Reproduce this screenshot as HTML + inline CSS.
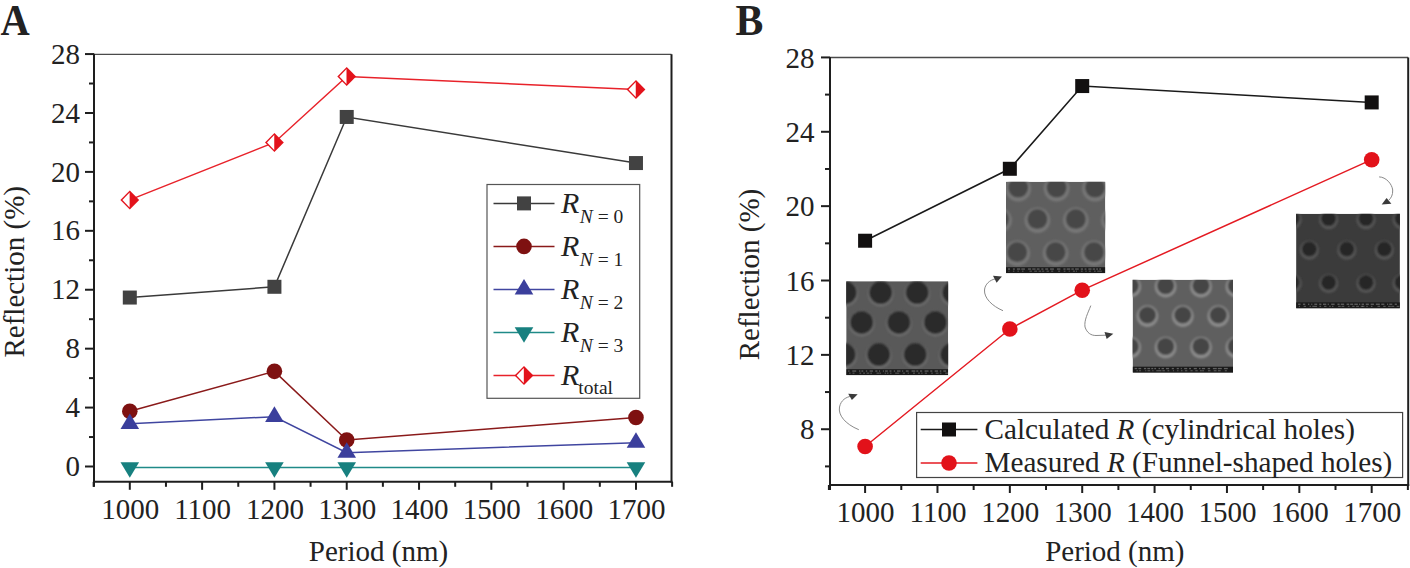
<!DOCTYPE html><html><head><meta charset="utf-8"><style>html,body{margin:0;padding:0;background:#fff;width:1410px;height:568px;overflow:hidden}</style></head><body><svg width="1410" height="568" viewBox="0 0 1410 568" style="display:block">
<rect width="1410" height="568" fill="#fff"/>
<line x1="94.0" y1="54.3" x2="671.5" y2="54.3" stroke="#4a4a4a" stroke-width="1.3"/>
<line x1="671.5" y1="54.3" x2="671.5" y2="482.8" stroke="#1e1e1e" stroke-width="2"/>
<line x1="94.0" y1="53.699999999999996" x2="94.0" y2="486.8" stroke="#1e1e1e" stroke-width="2"/>
<line x1="93.0" y1="481.8" x2="672.5" y2="481.8" stroke="#1e1e1e" stroke-width="2"/>
<line x1="85.00" y1="466.50" x2="94.0" y2="466.50" stroke="#1e1e1e" stroke-width="2"/>
<text transform="translate(80,476.10) scale(1,1.05)" text-anchor="end" font-family="Liberation Serif" font-size="29" fill="#222">0</text>
<line x1="89.00" y1="437.04" x2="94.0" y2="437.04" stroke="#1e1e1e" stroke-width="2"/>
<line x1="85.00" y1="407.58" x2="94.0" y2="407.58" stroke="#1e1e1e" stroke-width="2"/>
<text transform="translate(80,417.18) scale(1,1.05)" text-anchor="end" font-family="Liberation Serif" font-size="29" fill="#222">4</text>
<line x1="89.00" y1="378.12" x2="94.0" y2="378.12" stroke="#1e1e1e" stroke-width="2"/>
<line x1="85.00" y1="348.66" x2="94.0" y2="348.66" stroke="#1e1e1e" stroke-width="2"/>
<text transform="translate(80,358.26) scale(1,1.05)" text-anchor="end" font-family="Liberation Serif" font-size="29" fill="#222">8</text>
<line x1="89.00" y1="319.20" x2="94.0" y2="319.20" stroke="#1e1e1e" stroke-width="2"/>
<line x1="85.00" y1="289.74" x2="94.0" y2="289.74" stroke="#1e1e1e" stroke-width="2"/>
<text transform="translate(80,299.34) scale(1,1.05)" text-anchor="end" font-family="Liberation Serif" font-size="29" fill="#222">12</text>
<line x1="89.00" y1="260.28" x2="94.0" y2="260.28" stroke="#1e1e1e" stroke-width="2"/>
<line x1="85.00" y1="230.82" x2="94.0" y2="230.82" stroke="#1e1e1e" stroke-width="2"/>
<text transform="translate(80,240.42) scale(1,1.05)" text-anchor="end" font-family="Liberation Serif" font-size="29" fill="#222">16</text>
<line x1="89.00" y1="201.36" x2="94.0" y2="201.36" stroke="#1e1e1e" stroke-width="2"/>
<line x1="85.00" y1="171.90" x2="94.0" y2="171.90" stroke="#1e1e1e" stroke-width="2"/>
<text transform="translate(80,181.50) scale(1,1.05)" text-anchor="end" font-family="Liberation Serif" font-size="29" fill="#222">20</text>
<line x1="89.00" y1="142.44" x2="94.0" y2="142.44" stroke="#1e1e1e" stroke-width="2"/>
<line x1="85.00" y1="112.98" x2="94.0" y2="112.98" stroke="#1e1e1e" stroke-width="2"/>
<text transform="translate(80,122.58) scale(1,1.05)" text-anchor="end" font-family="Liberation Serif" font-size="29" fill="#222">24</text>
<line x1="89.00" y1="83.52" x2="94.0" y2="83.52" stroke="#1e1e1e" stroke-width="2"/>
<line x1="85.00" y1="54.06" x2="94.0" y2="54.06" stroke="#1e1e1e" stroke-width="2"/>
<text transform="translate(80,63.66) scale(1,1.05)" text-anchor="end" font-family="Liberation Serif" font-size="29" fill="#222">28</text>
<line x1="93.65" y1="481.8" x2="93.65" y2="486.80" stroke="#1e1e1e" stroke-width="2"/>
<line x1="129.80" y1="481.8" x2="129.80" y2="489.80" stroke="#1e1e1e" stroke-width="2"/>
<text transform="translate(130.30,518.7) scale(1,1.05)" text-anchor="middle" font-family="Liberation Serif" font-size="29" fill="#222">1000</text>
<line x1="165.96" y1="481.8" x2="165.96" y2="486.80" stroke="#1e1e1e" stroke-width="2"/>
<line x1="202.11" y1="481.8" x2="202.11" y2="489.80" stroke="#1e1e1e" stroke-width="2"/>
<text transform="translate(202.61,518.7) scale(1,1.05)" text-anchor="middle" font-family="Liberation Serif" font-size="29" fill="#222">1100</text>
<line x1="238.26" y1="481.8" x2="238.26" y2="486.80" stroke="#1e1e1e" stroke-width="2"/>
<line x1="274.42" y1="481.8" x2="274.42" y2="489.80" stroke="#1e1e1e" stroke-width="2"/>
<text transform="translate(274.92,518.7) scale(1,1.05)" text-anchor="middle" font-family="Liberation Serif" font-size="29" fill="#222">1200</text>
<line x1="310.57" y1="481.8" x2="310.57" y2="486.80" stroke="#1e1e1e" stroke-width="2"/>
<line x1="346.73" y1="481.8" x2="346.73" y2="489.80" stroke="#1e1e1e" stroke-width="2"/>
<text transform="translate(347.23,518.7) scale(1,1.05)" text-anchor="middle" font-family="Liberation Serif" font-size="29" fill="#222">1300</text>
<line x1="382.88" y1="481.8" x2="382.88" y2="486.80" stroke="#1e1e1e" stroke-width="2"/>
<line x1="419.04" y1="481.8" x2="419.04" y2="489.80" stroke="#1e1e1e" stroke-width="2"/>
<text transform="translate(419.54,518.7) scale(1,1.05)" text-anchor="middle" font-family="Liberation Serif" font-size="29" fill="#222">1400</text>
<line x1="455.19" y1="481.8" x2="455.19" y2="486.80" stroke="#1e1e1e" stroke-width="2"/>
<line x1="491.35" y1="481.8" x2="491.35" y2="489.80" stroke="#1e1e1e" stroke-width="2"/>
<text transform="translate(491.85,518.7) scale(1,1.05)" text-anchor="middle" font-family="Liberation Serif" font-size="29" fill="#222">1500</text>
<line x1="527.50" y1="481.8" x2="527.50" y2="486.80" stroke="#1e1e1e" stroke-width="2"/>
<line x1="563.66" y1="481.8" x2="563.66" y2="489.80" stroke="#1e1e1e" stroke-width="2"/>
<text transform="translate(564.16,518.7) scale(1,1.05)" text-anchor="middle" font-family="Liberation Serif" font-size="29" fill="#222">1600</text>
<line x1="599.82" y1="481.8" x2="599.82" y2="486.80" stroke="#1e1e1e" stroke-width="2"/>
<line x1="635.97" y1="481.8" x2="635.97" y2="489.80" stroke="#1e1e1e" stroke-width="2"/>
<text transform="translate(636.47,518.7) scale(1,1.05)" text-anchor="middle" font-family="Liberation Serif" font-size="29" fill="#222">1700</text>
<line x1="672.12" y1="481.8" x2="672.12" y2="486.80" stroke="#1e1e1e" stroke-width="2"/>
<text x="378.5" y="561" text-anchor="middle" font-family="Liberation Serif" font-size="29" fill="#222">Period (nm)</text>
<text transform="translate(24,271.8) rotate(-90)" text-anchor="middle" font-family="Liberation Serif" font-size="29" fill="#222">Reflection (%)</text>
<text transform="translate(0.5,34.6) scale(1,1.1)" font-family="Liberation Serif" font-size="40.5" font-weight="bold" fill="#222">A</text>
<polyline points="129.80,297.55 274.42,286.79 346.73,116.96 635.97,163.06" fill="none" stroke="#3a3a3a" stroke-width="1.5"/>
<rect x="122.80" y="290.55" width="14.00" height="14.00" fill="#424242"/>
<rect x="267.42" y="279.79" width="14.00" height="14.00" fill="#424242"/>
<rect x="339.73" y="109.96" width="14.00" height="14.00" fill="#424242"/>
<rect x="628.97" y="156.06" width="14.00" height="14.00" fill="#424242"/>
<polyline points="129.80,411.26 274.42,371.34 346.73,439.99 635.97,417.45" fill="none" stroke="#8a1a1a" stroke-width="1.5"/>
<circle cx="129.80" cy="411.26" r="7.80" fill="#7e1111"/>
<circle cx="274.42" cy="371.34" r="7.80" fill="#7e1111"/>
<circle cx="346.73" cy="439.99" r="7.80" fill="#7e1111"/>
<circle cx="635.97" cy="417.45" r="7.80" fill="#7e1111"/>
<polyline points="129.80,423.78 274.42,416.71 346.73,452.65 635.97,442.64" fill="none" stroke="#4046a0" stroke-width="1.5"/>
<polygon points="120.50,428.98 139.10,428.98 129.80,413.38" fill="#3b3f9c"/>
<polygon points="265.12,421.91 283.72,421.91 274.42,406.31" fill="#3b3f9c"/>
<polygon points="337.43,457.85 356.03,457.85 346.73,442.25" fill="#3b3f9c"/>
<polygon points="626.67,447.84 645.27,447.84 635.97,432.24" fill="#3b3f9c"/>
<polyline points="129.80,467.38 274.42,467.38 346.73,467.38 635.97,467.38" fill="none" stroke="#1f8a88" stroke-width="1.5"/>
<polygon points="120.50,462.18 139.10,462.18 129.80,477.78" fill="#17807f"/>
<polygon points="265.12,462.18 283.72,462.18 274.42,477.78" fill="#17807f"/>
<polygon points="337.43,462.18 356.03,462.18 346.73,477.78" fill="#17807f"/>
<polygon points="626.67,462.18 645.27,462.18 635.97,477.78" fill="#17807f"/>
<polyline points="129.80,199.89 274.42,142.44 346.73,76.45 635.97,89.41" fill="none" stroke="#e8222a" stroke-width="1.5"/>
<polygon points="129.80,190.39 139.20,199.89 129.80,209.39 120.40,199.89" fill="#e3121b"/><polygon points="129.60,192.39 122.40,199.89 129.60,207.39" fill="#fff"/>
<polygon points="274.42,132.94 283.82,142.44 274.42,151.94 265.02,142.44" fill="#e3121b"/><polygon points="274.22,134.94 267.02,142.44 274.22,149.94" fill="#fff"/>
<polygon points="346.73,66.95 356.13,76.45 346.73,85.95 337.33,76.45" fill="#e3121b"/><polygon points="346.53,68.95 339.33,76.45 346.53,83.95" fill="#fff"/>
<polygon points="635.97,79.91 645.37,89.41 635.97,98.91 626.57,89.41" fill="#e3121b"/><polygon points="635.77,81.91 628.57,89.41 635.77,96.91" fill="#fff"/>
<rect x="487" y="184.5" width="152.7" height="213.8" fill="#fff" stroke="#555" stroke-width="1.2"/>
<line x1="493.5" y1="203.40" x2="554.5" y2="203.40" stroke="#3a3a3a" stroke-width="1.5"/>
<rect x="517.00" y="196.40" width="14.00" height="14.00" fill="#424242"/>
<text x="561" y="213.40" font-family="Liberation Serif" font-size="31" fill="#222"><tspan font-style="italic" font-size="30">R</tspan><tspan font-size="19.5" dy="9.7" dx="0.5" font-style="italic">N</tspan><tspan font-size="19.5"> = 0</tspan></text>
<line x1="493.5" y1="246.40" x2="554.5" y2="246.40" stroke="#8a1a1a" stroke-width="1.5"/>
<circle cx="524.00" cy="246.40" r="7.80" fill="#7e1111"/>
<text x="561" y="256.40" font-family="Liberation Serif" font-size="31" fill="#222"><tspan font-style="italic" font-size="30">R</tspan><tspan font-size="19.5" dy="9.7" dx="0.5" font-style="italic">N</tspan><tspan font-size="19.5"> = 1</tspan></text>
<line x1="493.5" y1="289.40" x2="554.5" y2="289.40" stroke="#4046a0" stroke-width="1.5"/>
<polygon points="514.70,294.60 533.30,294.60 524.00,279.00" fill="#3b3f9c"/>
<text x="561" y="299.40" font-family="Liberation Serif" font-size="31" fill="#222"><tspan font-style="italic" font-size="30">R</tspan><tspan font-size="19.5" dy="9.7" dx="0.5" font-style="italic">N</tspan><tspan font-size="19.5"> = 2</tspan></text>
<line x1="493.5" y1="332.40" x2="554.5" y2="332.40" stroke="#1f8a88" stroke-width="1.5"/>
<polygon points="514.70,327.20 533.30,327.20 524.00,342.80" fill="#17807f"/>
<text x="561" y="342.40" font-family="Liberation Serif" font-size="31" fill="#222"><tspan font-style="italic" font-size="30">R</tspan><tspan font-size="19.5" dy="9.7" dx="0.5" font-style="italic">N</tspan><tspan font-size="19.5"> = 3</tspan></text>
<line x1="493.5" y1="375.40" x2="554.5" y2="375.40" stroke="#e8222a" stroke-width="1.5"/>
<polygon points="524.00,365.90 533.40,375.40 524.00,384.90 514.60,375.40" fill="#e3121b"/><polygon points="523.80,367.90 516.60,375.40 523.80,382.90" fill="#fff"/>
<text x="561" y="385.40" font-family="Liberation Serif" font-size="31" fill="#222"><tspan font-style="italic" font-size="30">R</tspan><tspan font-size="19.5" dy="8.6" dx="-1">total</tspan></text>
<line x1="830.0" y1="57.5" x2="1408.2" y2="57.5" stroke="#4a4a4a" stroke-width="1.3"/>
<line x1="1408.2" y1="57.5" x2="1408.2" y2="486.0" stroke="#1e1e1e" stroke-width="2"/>
<line x1="830.0" y1="56.9" x2="830.0" y2="490.0" stroke="#1e1e1e" stroke-width="2"/>
<line x1="829.0" y1="485.0" x2="1409.2" y2="485.0" stroke="#1e1e1e" stroke-width="2"/>
<line x1="825.00" y1="466.41" x2="830.0" y2="466.41" stroke="#1e1e1e" stroke-width="2"/>
<line x1="821.00" y1="429.23" x2="830.0" y2="429.23" stroke="#1e1e1e" stroke-width="2"/>
<text transform="translate(814.5,439.33) scale(1,1.05)" text-anchor="end" font-family="Liberation Serif" font-size="29" fill="#222">8</text>
<line x1="825.00" y1="392.05" x2="830.0" y2="392.05" stroke="#1e1e1e" stroke-width="2"/>
<line x1="821.00" y1="354.87" x2="830.0" y2="354.87" stroke="#1e1e1e" stroke-width="2"/>
<text transform="translate(814.5,364.97) scale(1,1.05)" text-anchor="end" font-family="Liberation Serif" font-size="29" fill="#222">12</text>
<line x1="825.00" y1="317.69" x2="830.0" y2="317.69" stroke="#1e1e1e" stroke-width="2"/>
<line x1="821.00" y1="280.51" x2="830.0" y2="280.51" stroke="#1e1e1e" stroke-width="2"/>
<text transform="translate(814.5,290.61) scale(1,1.05)" text-anchor="end" font-family="Liberation Serif" font-size="29" fill="#222">16</text>
<line x1="825.00" y1="243.33" x2="830.0" y2="243.33" stroke="#1e1e1e" stroke-width="2"/>
<line x1="821.00" y1="206.15" x2="830.0" y2="206.15" stroke="#1e1e1e" stroke-width="2"/>
<text transform="translate(814.5,216.25) scale(1,1.05)" text-anchor="end" font-family="Liberation Serif" font-size="29" fill="#222">20</text>
<line x1="825.00" y1="168.97" x2="830.0" y2="168.97" stroke="#1e1e1e" stroke-width="2"/>
<line x1="821.00" y1="131.79" x2="830.0" y2="131.79" stroke="#1e1e1e" stroke-width="2"/>
<text transform="translate(814.5,141.89) scale(1,1.05)" text-anchor="end" font-family="Liberation Serif" font-size="29" fill="#222">24</text>
<line x1="825.00" y1="94.61" x2="830.0" y2="94.61" stroke="#1e1e1e" stroke-width="2"/>
<line x1="821.00" y1="57.43" x2="830.0" y2="57.43" stroke="#1e1e1e" stroke-width="2"/>
<text transform="translate(814.5,67.53) scale(1,1.05)" text-anchor="end" font-family="Liberation Serif" font-size="29" fill="#222">28</text>
<line x1="828.91" y1="485.0" x2="828.91" y2="490.00" stroke="#1e1e1e" stroke-width="2"/>
<line x1="865.10" y1="485.0" x2="865.10" y2="493.00" stroke="#1e1e1e" stroke-width="2"/>
<text transform="translate(865.60,521.5) scale(1,1.05)" text-anchor="middle" font-family="Liberation Serif" font-size="29" fill="#222">1000</text>
<line x1="901.29" y1="485.0" x2="901.29" y2="490.00" stroke="#1e1e1e" stroke-width="2"/>
<line x1="937.47" y1="485.0" x2="937.47" y2="493.00" stroke="#1e1e1e" stroke-width="2"/>
<text transform="translate(937.97,521.5) scale(1,1.05)" text-anchor="middle" font-family="Liberation Serif" font-size="29" fill="#222">1100</text>
<line x1="973.65" y1="485.0" x2="973.65" y2="490.00" stroke="#1e1e1e" stroke-width="2"/>
<line x1="1009.84" y1="485.0" x2="1009.84" y2="493.00" stroke="#1e1e1e" stroke-width="2"/>
<text transform="translate(1010.34,521.5) scale(1,1.05)" text-anchor="middle" font-family="Liberation Serif" font-size="29" fill="#222">1200</text>
<line x1="1046.03" y1="485.0" x2="1046.03" y2="490.00" stroke="#1e1e1e" stroke-width="2"/>
<line x1="1082.21" y1="485.0" x2="1082.21" y2="493.00" stroke="#1e1e1e" stroke-width="2"/>
<text transform="translate(1082.71,521.5) scale(1,1.05)" text-anchor="middle" font-family="Liberation Serif" font-size="29" fill="#222">1300</text>
<line x1="1118.39" y1="485.0" x2="1118.39" y2="490.00" stroke="#1e1e1e" stroke-width="2"/>
<line x1="1154.58" y1="485.0" x2="1154.58" y2="493.00" stroke="#1e1e1e" stroke-width="2"/>
<text transform="translate(1155.08,521.5) scale(1,1.05)" text-anchor="middle" font-family="Liberation Serif" font-size="29" fill="#222">1400</text>
<line x1="1190.77" y1="485.0" x2="1190.77" y2="490.00" stroke="#1e1e1e" stroke-width="2"/>
<line x1="1226.95" y1="485.0" x2="1226.95" y2="493.00" stroke="#1e1e1e" stroke-width="2"/>
<text transform="translate(1227.45,521.5) scale(1,1.05)" text-anchor="middle" font-family="Liberation Serif" font-size="29" fill="#222">1500</text>
<line x1="1263.13" y1="485.0" x2="1263.13" y2="490.00" stroke="#1e1e1e" stroke-width="2"/>
<line x1="1299.32" y1="485.0" x2="1299.32" y2="493.00" stroke="#1e1e1e" stroke-width="2"/>
<text transform="translate(1299.82,521.5) scale(1,1.05)" text-anchor="middle" font-family="Liberation Serif" font-size="29" fill="#222">1600</text>
<line x1="1335.51" y1="485.0" x2="1335.51" y2="490.00" stroke="#1e1e1e" stroke-width="2"/>
<line x1="1371.69" y1="485.0" x2="1371.69" y2="493.00" stroke="#1e1e1e" stroke-width="2"/>
<text transform="translate(1372.19,521.5) scale(1,1.05)" text-anchor="middle" font-family="Liberation Serif" font-size="29" fill="#222">1700</text>
<line x1="1407.88" y1="485.0" x2="1407.88" y2="490.00" stroke="#1e1e1e" stroke-width="2"/>
<text x="1114.8" y="561" text-anchor="middle" font-family="Liberation Serif" font-size="29" fill="#222">Period (nm)</text>
<text transform="translate(758.5,274.5) rotate(-90)" text-anchor="middle" font-family="Liberation Serif" font-size="29" fill="#222">Reflection (%)</text>
<text transform="translate(735.5,34.6) scale(1.03,1.1)" font-family="Liberation Serif" font-size="40.5" font-weight="bold" fill="#222">B</text>
<clipPath id="c846"><rect x="846.2" y="281.2" width="102" height="94"/></clipPath><filter id="bc846" x="-10%" y="-10%" width="120%" height="120%"><feGaussianBlur stdDeviation="0.9"/></filter><g clip-path="url(#c846)"><rect x="846.2" y="281.2" width="102" height="94" fill="#595959"/><g filter="url(#bc846)"><circle cx="845.20" cy="293.70" r="12.90" fill="#6e6e6e"/><circle cx="845.20" cy="292.60" r="11.50" fill="#2c2c2c"/><circle cx="880.70" cy="293.70" r="12.90" fill="#6e6e6e"/><circle cx="880.70" cy="292.60" r="11.50" fill="#2c2c2c"/><circle cx="917.20" cy="293.70" r="12.90" fill="#6e6e6e"/><circle cx="917.20" cy="292.60" r="11.50" fill="#2c2c2c"/><circle cx="953.70" cy="293.70" r="12.90" fill="#6e6e6e"/><circle cx="953.70" cy="292.60" r="11.50" fill="#2c2c2c"/><circle cx="861.70" cy="323.50" r="12.90" fill="#6e6e6e"/><circle cx="861.70" cy="322.40" r="11.50" fill="#2c2c2c"/><circle cx="898.90" cy="323.50" r="12.90" fill="#6e6e6e"/><circle cx="898.90" cy="322.40" r="11.50" fill="#2c2c2c"/><circle cx="935.40" cy="323.50" r="12.90" fill="#6e6e6e"/><circle cx="935.40" cy="322.40" r="11.50" fill="#2c2c2c"/><circle cx="844.20" cy="355.70" r="12.90" fill="#6e6e6e"/><circle cx="844.20" cy="354.60" r="11.50" fill="#2c2c2c"/><circle cx="878.70" cy="355.70" r="12.90" fill="#6e6e6e"/><circle cx="878.70" cy="354.60" r="11.50" fill="#2c2c2c"/><circle cx="915.20" cy="355.70" r="12.90" fill="#6e6e6e"/><circle cx="915.20" cy="354.60" r="11.50" fill="#2c2c2c"/><circle cx="951.70" cy="355.70" r="12.90" fill="#6e6e6e"/><circle cx="951.70" cy="354.60" r="11.50" fill="#2c2c2c"/></g><rect x="846.2" y="369.2" width="102" height="6" fill="#1a1a1a"/><rect x="848.20" y="370.40" width="1.31" height="1.3" fill="#9a9a9a" opacity="0.55"/><rect x="849.18" y="372.60" width="1.32" height="1.2" fill="#9a9a9a" opacity="0.45"/><rect x="852.26" y="370.40" width="3.97" height="1.3" fill="#9a9a9a" opacity="0.55"/><rect x="852.55" y="372.60" width="1.94" height="1.2" fill="#9a9a9a" opacity="0.45"/><rect x="859.01" y="370.40" width="1.35" height="1.3" fill="#9a9a9a" opacity="0.55"/><rect x="859.43" y="372.60" width="1.75" height="1.2" fill="#9a9a9a" opacity="0.45"/><rect x="861.46" y="370.40" width="1.84" height="1.3" fill="#9a9a9a" opacity="0.55"/><rect x="863.15" y="372.60" width="1.87" height="1.2" fill="#9a9a9a" opacity="0.45"/><rect x="865.86" y="370.40" width="1.38" height="1.3" fill="#9a9a9a" opacity="0.55"/><rect x="866.61" y="372.60" width="2.66" height="1.2" fill="#9a9a9a" opacity="0.45"/><rect x="869.60" y="370.40" width="3.32" height="1.3" fill="#9a9a9a" opacity="0.55"/><rect x="870.29" y="372.60" width="1.65" height="1.2" fill="#9a9a9a" opacity="0.45"/><rect x="875.30" y="370.40" width="2.11" height="1.3" fill="#9a9a9a" opacity="0.55"/><rect x="876.52" y="372.60" width="2.66" height="1.2" fill="#9a9a9a" opacity="0.45"/><rect x="879.05" y="370.40" width="1.04" height="1.3" fill="#9a9a9a" opacity="0.55"/><rect x="879.41" y="372.60" width="1.63" height="1.2" fill="#9a9a9a" opacity="0.45"/><rect x="882.87" y="370.40" width="1.05" height="1.3" fill="#9a9a9a" opacity="0.55"/><rect x="884.70" y="372.60" width="1.42" height="1.2" fill="#9a9a9a" opacity="0.45"/><rect x="885.10" y="370.40" width="2.72" height="1.3" fill="#9a9a9a" opacity="0.55"/><rect x="887.02" y="372.60" width="1.41" height="1.2" fill="#9a9a9a" opacity="0.45"/><rect x="889.56" y="370.40" width="1.89" height="1.3" fill="#9a9a9a" opacity="0.55"/><rect x="890.00" y="372.60" width="1.49" height="1.2" fill="#9a9a9a" opacity="0.45"/><rect x="893.80" y="370.40" width="1.29" height="1.3" fill="#9a9a9a" opacity="0.55"/><rect x="895.14" y="372.60" width="2.15" height="1.2" fill="#9a9a9a" opacity="0.45"/><rect x="896.96" y="370.40" width="3.55" height="1.3" fill="#9a9a9a" opacity="0.55"/><rect x="897.14" y="372.60" width="2.15" height="1.2" fill="#9a9a9a" opacity="0.45"/><rect x="902.05" y="370.40" width="1.19" height="1.3" fill="#9a9a9a" opacity="0.55"/><rect x="902.72" y="372.60" width="2.28" height="1.2" fill="#9a9a9a" opacity="0.45"/><rect x="905.84" y="370.40" width="2.78" height="1.3" fill="#9a9a9a" opacity="0.55"/><rect x="907.67" y="372.60" width="1.22" height="1.2" fill="#9a9a9a" opacity="0.45"/><rect x="911.57" y="370.40" width="3.70" height="1.3" fill="#9a9a9a" opacity="0.55"/><rect x="912.95" y="372.60" width="2.03" height="1.2" fill="#9a9a9a" opacity="0.45"/><rect x="916.29" y="370.40" width="1.99" height="1.3" fill="#9a9a9a" opacity="0.55"/><rect x="918.05" y="372.60" width="1.79" height="1.2" fill="#9a9a9a" opacity="0.45"/><rect x="920.02" y="370.40" width="2.19" height="1.3" fill="#9a9a9a" opacity="0.55"/><rect x="921.19" y="372.60" width="1.37" height="1.2" fill="#9a9a9a" opacity="0.45"/><rect x="924.56" y="370.40" width="3.97" height="1.3" fill="#9a9a9a" opacity="0.55"/><rect x="924.82" y="372.60" width="2.24" height="1.2" fill="#9a9a9a" opacity="0.45"/><rect x="930.25" y="370.40" width="2.09" height="1.3" fill="#9a9a9a" opacity="0.55"/><rect x="931.21" y="372.60" width="1.57" height="1.2" fill="#9a9a9a" opacity="0.45"/><rect x="934.65" y="370.40" width="3.41" height="1.3" fill="#9a9a9a" opacity="0.55"/><rect x="935.71" y="372.60" width="2.81" height="1.2" fill="#9a9a9a" opacity="0.45"/><rect x="939.75" y="370.40" width="1.58" height="1.3" fill="#9a9a9a" opacity="0.55"/><rect x="939.84" y="372.60" width="1.62" height="1.2" fill="#9a9a9a" opacity="0.45"/><rect x="943.33" y="370.40" width="2.86" height="1.3" fill="#9a9a9a" opacity="0.55"/><rect x="945.13" y="372.60" width="2.89" height="1.2" fill="#9a9a9a" opacity="0.45"/></g>
<clipPath id="c1006"><rect x="1006" y="181.7" width="99.3" height="91.5"/></clipPath><filter id="bc1006" x="-10%" y="-10%" width="120%" height="120%"><feGaussianBlur stdDeviation="0.9"/></filter><g clip-path="url(#c1006)"><rect x="1006" y="181.7" width="99.3" height="91.5" fill="#5f5f5f"/><g filter="url(#bc1006)"><circle cx="1018.20" cy="188.70" r="12.80" fill="#777777"/><circle cx="1018.20" cy="187.60" r="10.00" fill="#474747"/><circle cx="1056.60" cy="188.70" r="12.80" fill="#777777"/><circle cx="1056.60" cy="187.60" r="10.00" fill="#474747"/><circle cx="1095.00" cy="188.70" r="12.80" fill="#777777"/><circle cx="1095.00" cy="187.60" r="10.00" fill="#474747"/><circle cx="999.00" cy="220.20" r="12.80" fill="#777777"/><circle cx="999.00" cy="219.10" r="10.00" fill="#474747"/><circle cx="1037.40" cy="220.20" r="12.80" fill="#777777"/><circle cx="1037.40" cy="219.10" r="10.00" fill="#474747"/><circle cx="1075.80" cy="220.20" r="12.80" fill="#777777"/><circle cx="1075.80" cy="219.10" r="10.00" fill="#474747"/><circle cx="1114.00" cy="220.20" r="12.80" fill="#777777"/><circle cx="1114.00" cy="219.10" r="10.00" fill="#474747"/><circle cx="1017.20" cy="253.20" r="12.80" fill="#777777"/><circle cx="1017.20" cy="252.10" r="10.00" fill="#474747"/><circle cx="1055.60" cy="253.20" r="12.80" fill="#777777"/><circle cx="1055.60" cy="252.10" r="10.00" fill="#474747"/><circle cx="1094.00" cy="253.20" r="12.80" fill="#777777"/><circle cx="1094.00" cy="252.10" r="10.00" fill="#474747"/></g><rect x="1006" y="267.2" width="99.3" height="6" fill="#1a1a1a"/><rect x="1008.00" y="268.40" width="2.04" height="1.3" fill="#9a9a9a" opacity="0.55"/><rect x="1008.46" y="270.60" width="1.02" height="1.2" fill="#9a9a9a" opacity="0.45"/><rect x="1012.90" y="268.40" width="1.97" height="1.3" fill="#9a9a9a" opacity="0.55"/><rect x="1012.90" y="270.60" width="1.42" height="1.2" fill="#9a9a9a" opacity="0.45"/><rect x="1016.90" y="268.40" width="3.29" height="1.3" fill="#9a9a9a" opacity="0.55"/><rect x="1017.52" y="270.60" width="1.30" height="1.2" fill="#9a9a9a" opacity="0.45"/><rect x="1021.33" y="268.40" width="3.62" height="1.3" fill="#9a9a9a" opacity="0.55"/><rect x="1021.95" y="270.60" width="1.55" height="1.2" fill="#9a9a9a" opacity="0.45"/><rect x="1027.92" y="268.40" width="3.22" height="1.3" fill="#9a9a9a" opacity="0.55"/><rect x="1029.46" y="270.60" width="2.47" height="1.2" fill="#9a9a9a" opacity="0.45"/><rect x="1032.22" y="268.40" width="3.35" height="1.3" fill="#9a9a9a" opacity="0.55"/><rect x="1034.19" y="270.60" width="2.97" height="1.2" fill="#9a9a9a" opacity="0.45"/><rect x="1036.75" y="268.40" width="2.85" height="1.3" fill="#9a9a9a" opacity="0.55"/><rect x="1038.55" y="270.60" width="2.60" height="1.2" fill="#9a9a9a" opacity="0.45"/><rect x="1041.35" y="268.40" width="2.06" height="1.3" fill="#9a9a9a" opacity="0.55"/><rect x="1042.16" y="270.60" width="2.05" height="1.2" fill="#9a9a9a" opacity="0.45"/><rect x="1045.24" y="268.40" width="2.92" height="1.3" fill="#9a9a9a" opacity="0.55"/><rect x="1046.53" y="270.60" width="2.44" height="1.2" fill="#9a9a9a" opacity="0.45"/><rect x="1050.08" y="268.40" width="3.84" height="1.3" fill="#9a9a9a" opacity="0.55"/><rect x="1051.18" y="270.60" width="2.04" height="1.2" fill="#9a9a9a" opacity="0.45"/><rect x="1056.92" y="268.40" width="3.50" height="1.3" fill="#9a9a9a" opacity="0.55"/><rect x="1058.10" y="270.60" width="2.06" height="1.2" fill="#9a9a9a" opacity="0.45"/><rect x="1063.41" y="268.40" width="2.14" height="1.3" fill="#9a9a9a" opacity="0.55"/><rect x="1063.74" y="270.60" width="1.72" height="1.2" fill="#9a9a9a" opacity="0.45"/><rect x="1066.71" y="268.40" width="3.52" height="1.3" fill="#9a9a9a" opacity="0.55"/><rect x="1068.64" y="270.60" width="1.17" height="1.2" fill="#9a9a9a" opacity="0.45"/><rect x="1071.36" y="268.40" width="2.45" height="1.3" fill="#9a9a9a" opacity="0.55"/><rect x="1072.86" y="270.60" width="2.13" height="1.2" fill="#9a9a9a" opacity="0.45"/><rect x="1075.09" y="268.40" width="3.71" height="1.3" fill="#9a9a9a" opacity="0.55"/><rect x="1075.88" y="270.60" width="1.09" height="1.2" fill="#9a9a9a" opacity="0.45"/><rect x="1080.72" y="268.40" width="2.33" height="1.3" fill="#9a9a9a" opacity="0.55"/><rect x="1080.88" y="270.60" width="1.76" height="1.2" fill="#9a9a9a" opacity="0.45"/><rect x="1084.55" y="268.40" width="1.94" height="1.3" fill="#9a9a9a" opacity="0.55"/><rect x="1085.36" y="270.60" width="1.34" height="1.2" fill="#9a9a9a" opacity="0.45"/><rect x="1088.27" y="268.40" width="3.28" height="1.3" fill="#9a9a9a" opacity="0.55"/><rect x="1088.71" y="270.60" width="2.13" height="1.2" fill="#9a9a9a" opacity="0.45"/><rect x="1092.67" y="268.40" width="2.47" height="1.3" fill="#9a9a9a" opacity="0.55"/><rect x="1093.97" y="270.60" width="1.72" height="1.2" fill="#9a9a9a" opacity="0.45"/><rect x="1096.17" y="268.40" width="1.82" height="1.3" fill="#9a9a9a" opacity="0.55"/><rect x="1097.24" y="270.60" width="2.26" height="1.2" fill="#9a9a9a" opacity="0.45"/><rect x="1099.25" y="268.40" width="1.78" height="1.3" fill="#9a9a9a" opacity="0.55"/><rect x="1099.42" y="270.60" width="2.49" height="1.2" fill="#9a9a9a" opacity="0.45"/></g>
<clipPath id="c1132"><rect x="1132.6" y="279.7" width="100.4" height="93"/></clipPath><filter id="bc1132" x="-10%" y="-10%" width="120%" height="120%"><feGaussianBlur stdDeviation="0.8"/></filter><g clip-path="url(#c1132)"><rect x="1132.6" y="279.7" width="100.4" height="93" fill="#5f5f5f"/><g filter="url(#bc1132)"><circle cx="1130.20" cy="286.70" r="10.80" fill="#8c8c8c"/><circle cx="1130.20" cy="285.60" r="8.60" fill="#454545"/><circle cx="1165.60" cy="286.70" r="10.80" fill="#8c8c8c"/><circle cx="1165.60" cy="285.60" r="8.60" fill="#454545"/><circle cx="1201.00" cy="286.70" r="10.80" fill="#8c8c8c"/><circle cx="1201.00" cy="285.60" r="8.60" fill="#454545"/><circle cx="1236.40" cy="286.70" r="10.80" fill="#8c8c8c"/><circle cx="1236.40" cy="285.60" r="8.60" fill="#454545"/><circle cx="1147.40" cy="316.10" r="10.80" fill="#8c8c8c"/><circle cx="1147.40" cy="315.00" r="8.60" fill="#454545"/><circle cx="1182.80" cy="316.10" r="10.80" fill="#8c8c8c"/><circle cx="1182.80" cy="315.00" r="8.60" fill="#454545"/><circle cx="1218.30" cy="316.10" r="10.80" fill="#8c8c8c"/><circle cx="1218.30" cy="315.00" r="8.60" fill="#454545"/><circle cx="1130.20" cy="347.50" r="10.80" fill="#8c8c8c"/><circle cx="1130.20" cy="346.40" r="8.60" fill="#454545"/><circle cx="1165.60" cy="347.50" r="10.80" fill="#8c8c8c"/><circle cx="1165.60" cy="346.40" r="8.60" fill="#454545"/><circle cx="1201.00" cy="347.50" r="10.80" fill="#8c8c8c"/><circle cx="1201.00" cy="346.40" r="8.60" fill="#454545"/><circle cx="1236.40" cy="347.50" r="10.80" fill="#8c8c8c"/><circle cx="1236.40" cy="346.40" r="8.60" fill="#454545"/></g><rect x="1132.6" y="366.7" width="100.4" height="6" fill="#1a1a1a"/><rect x="1134.60" y="367.90" width="2.62" height="1.3" fill="#9a9a9a" opacity="0.55"/><rect x="1136.45" y="370.10" width="1.35" height="1.2" fill="#9a9a9a" opacity="0.45"/><rect x="1138.42" y="367.90" width="2.76" height="1.3" fill="#9a9a9a" opacity="0.55"/><rect x="1139.13" y="370.10" width="1.78" height="1.2" fill="#9a9a9a" opacity="0.45"/><rect x="1143.93" y="367.90" width="2.24" height="1.3" fill="#9a9a9a" opacity="0.55"/><rect x="1145.24" y="370.10" width="1.03" height="1.2" fill="#9a9a9a" opacity="0.45"/><rect x="1147.37" y="367.90" width="2.73" height="1.3" fill="#9a9a9a" opacity="0.55"/><rect x="1147.55" y="370.10" width="2.66" height="1.2" fill="#9a9a9a" opacity="0.45"/><rect x="1151.28" y="367.90" width="1.90" height="1.3" fill="#9a9a9a" opacity="0.55"/><rect x="1152.30" y="370.10" width="1.20" height="1.2" fill="#9a9a9a" opacity="0.45"/><rect x="1154.29" y="367.90" width="1.82" height="1.3" fill="#9a9a9a" opacity="0.55"/><rect x="1156.25" y="370.10" width="2.90" height="1.2" fill="#9a9a9a" opacity="0.45"/><rect x="1158.55" y="367.90" width="1.44" height="1.3" fill="#9a9a9a" opacity="0.55"/><rect x="1159.04" y="370.10" width="2.33" height="1.2" fill="#9a9a9a" opacity="0.45"/><rect x="1161.58" y="367.90" width="2.40" height="1.3" fill="#9a9a9a" opacity="0.55"/><rect x="1162.38" y="370.10" width="2.53" height="1.2" fill="#9a9a9a" opacity="0.45"/><rect x="1165.95" y="367.90" width="3.14" height="1.3" fill="#9a9a9a" opacity="0.55"/><rect x="1167.54" y="370.10" width="1.68" height="1.2" fill="#9a9a9a" opacity="0.45"/><rect x="1171.76" y="367.90" width="2.13" height="1.3" fill="#9a9a9a" opacity="0.55"/><rect x="1172.93" y="370.10" width="1.01" height="1.2" fill="#9a9a9a" opacity="0.45"/><rect x="1176.72" y="367.90" width="2.11" height="1.3" fill="#9a9a9a" opacity="0.55"/><rect x="1177.24" y="370.10" width="1.18" height="1.2" fill="#9a9a9a" opacity="0.45"/><rect x="1180.75" y="367.90" width="1.07" height="1.3" fill="#9a9a9a" opacity="0.55"/><rect x="1181.01" y="370.10" width="1.47" height="1.2" fill="#9a9a9a" opacity="0.45"/><rect x="1184.15" y="367.90" width="3.07" height="1.3" fill="#9a9a9a" opacity="0.55"/><rect x="1184.95" y="370.10" width="2.36" height="1.2" fill="#9a9a9a" opacity="0.45"/><rect x="1189.09" y="367.90" width="1.87" height="1.3" fill="#9a9a9a" opacity="0.55"/><rect x="1190.47" y="370.10" width="2.19" height="1.2" fill="#9a9a9a" opacity="0.45"/><rect x="1193.75" y="367.90" width="3.12" height="1.3" fill="#9a9a9a" opacity="0.55"/><rect x="1195.29" y="370.10" width="2.43" height="1.2" fill="#9a9a9a" opacity="0.45"/><rect x="1199.07" y="367.90" width="1.45" height="1.3" fill="#9a9a9a" opacity="0.55"/><rect x="1200.03" y="370.10" width="1.79" height="1.2" fill="#9a9a9a" opacity="0.45"/><rect x="1201.89" y="367.90" width="3.23" height="1.3" fill="#9a9a9a" opacity="0.55"/><rect x="1202.18" y="370.10" width="1.73" height="1.2" fill="#9a9a9a" opacity="0.45"/><rect x="1207.67" y="367.90" width="2.47" height="1.3" fill="#9a9a9a" opacity="0.55"/><rect x="1207.94" y="370.10" width="2.57" height="1.2" fill="#9a9a9a" opacity="0.45"/><rect x="1212.86" y="367.90" width="3.92" height="1.3" fill="#9a9a9a" opacity="0.55"/><rect x="1213.74" y="370.10" width="2.78" height="1.2" fill="#9a9a9a" opacity="0.45"/><rect x="1217.82" y="367.90" width="3.98" height="1.3" fill="#9a9a9a" opacity="0.55"/><rect x="1217.95" y="370.10" width="2.78" height="1.2" fill="#9a9a9a" opacity="0.45"/><rect x="1223.90" y="367.90" width="3.88" height="1.3" fill="#9a9a9a" opacity="0.55"/><rect x="1224.81" y="370.10" width="2.04" height="1.2" fill="#9a9a9a" opacity="0.45"/></g>
<clipPath id="c1296"><rect x="1296.1" y="213.8" width="103.8" height="94.6"/></clipPath><filter id="bc1296" x="-10%" y="-10%" width="120%" height="120%"><feGaussianBlur stdDeviation="0.9"/></filter><g clip-path="url(#c1296)"><rect x="1296.1" y="213.8" width="103.8" height="94.6" fill="#3b3b3b"/><g filter="url(#bc1296)"><circle cx="1292.10" cy="219.70" r="9.60" fill="#565656"/><circle cx="1292.10" cy="218.60" r="7.50" fill="#252525"/><circle cx="1328.60" cy="219.70" r="9.60" fill="#565656"/><circle cx="1328.60" cy="218.60" r="7.50" fill="#252525"/><circle cx="1366.00" cy="219.70" r="9.60" fill="#565656"/><circle cx="1366.00" cy="218.60" r="7.50" fill="#252525"/><circle cx="1402.10" cy="219.70" r="9.60" fill="#565656"/><circle cx="1402.10" cy="218.60" r="7.50" fill="#252525"/><circle cx="1309.30" cy="250.10" r="9.60" fill="#565656"/><circle cx="1309.30" cy="249.00" r="7.50" fill="#252525"/><circle cx="1346.80" cy="250.10" r="9.60" fill="#565656"/><circle cx="1346.80" cy="249.00" r="7.50" fill="#252525"/><circle cx="1384.30" cy="250.10" r="9.60" fill="#565656"/><circle cx="1384.30" cy="249.00" r="7.50" fill="#252525"/><circle cx="1292.10" cy="283.50" r="9.60" fill="#565656"/><circle cx="1292.10" cy="282.40" r="7.50" fill="#252525"/><circle cx="1328.60" cy="283.50" r="9.60" fill="#565656"/><circle cx="1328.60" cy="282.40" r="7.50" fill="#252525"/><circle cx="1366.00" cy="283.50" r="9.60" fill="#565656"/><circle cx="1366.00" cy="282.40" r="7.50" fill="#252525"/><circle cx="1402.10" cy="283.50" r="9.60" fill="#565656"/><circle cx="1402.10" cy="282.40" r="7.50" fill="#252525"/></g><rect x="1296.1" y="302.4" width="103.8" height="6" fill="#1a1a1a"/><rect x="1298.10" y="303.60" width="2.42" height="1.3" fill="#9a9a9a" opacity="0.55"/><rect x="1298.82" y="305.80" width="1.08" height="1.2" fill="#9a9a9a" opacity="0.45"/><rect x="1302.91" y="303.60" width="2.33" height="1.3" fill="#9a9a9a" opacity="0.55"/><rect x="1303.68" y="305.80" width="2.29" height="1.2" fill="#9a9a9a" opacity="0.45"/><rect x="1308.01" y="303.60" width="1.32" height="1.3" fill="#9a9a9a" opacity="0.55"/><rect x="1309.57" y="305.80" width="1.29" height="1.2" fill="#9a9a9a" opacity="0.45"/><rect x="1311.25" y="303.60" width="1.05" height="1.3" fill="#9a9a9a" opacity="0.55"/><rect x="1312.27" y="305.80" width="2.84" height="1.2" fill="#9a9a9a" opacity="0.45"/><rect x="1314.32" y="303.60" width="2.90" height="1.3" fill="#9a9a9a" opacity="0.55"/><rect x="1314.92" y="305.80" width="2.09" height="1.2" fill="#9a9a9a" opacity="0.45"/><rect x="1319.22" y="303.60" width="2.16" height="1.3" fill="#9a9a9a" opacity="0.55"/><rect x="1319.46" y="305.80" width="1.64" height="1.2" fill="#9a9a9a" opacity="0.45"/><rect x="1322.99" y="303.60" width="3.27" height="1.3" fill="#9a9a9a" opacity="0.55"/><rect x="1324.03" y="305.80" width="2.48" height="1.2" fill="#9a9a9a" opacity="0.45"/><rect x="1327.67" y="303.60" width="1.16" height="1.3" fill="#9a9a9a" opacity="0.55"/><rect x="1329.22" y="305.80" width="1.43" height="1.2" fill="#9a9a9a" opacity="0.45"/><rect x="1331.17" y="303.60" width="3.45" height="1.3" fill="#9a9a9a" opacity="0.55"/><rect x="1331.98" y="305.80" width="1.46" height="1.2" fill="#9a9a9a" opacity="0.45"/><rect x="1337.42" y="303.60" width="2.18" height="1.3" fill="#9a9a9a" opacity="0.55"/><rect x="1338.09" y="305.80" width="2.59" height="1.2" fill="#9a9a9a" opacity="0.45"/><rect x="1340.76" y="303.60" width="3.42" height="1.3" fill="#9a9a9a" opacity="0.55"/><rect x="1341.58" y="305.80" width="2.73" height="1.2" fill="#9a9a9a" opacity="0.45"/><rect x="1346.59" y="303.60" width="2.62" height="1.3" fill="#9a9a9a" opacity="0.55"/><rect x="1347.85" y="305.80" width="1.66" height="1.2" fill="#9a9a9a" opacity="0.45"/><rect x="1350.23" y="303.60" width="2.95" height="1.3" fill="#9a9a9a" opacity="0.55"/><rect x="1352.14" y="305.80" width="2.46" height="1.2" fill="#9a9a9a" opacity="0.45"/><rect x="1354.33" y="303.60" width="3.51" height="1.3" fill="#9a9a9a" opacity="0.55"/><rect x="1356.11" y="305.80" width="2.91" height="1.2" fill="#9a9a9a" opacity="0.45"/><rect x="1359.08" y="303.60" width="1.17" height="1.3" fill="#9a9a9a" opacity="0.55"/><rect x="1360.76" y="305.80" width="2.26" height="1.2" fill="#9a9a9a" opacity="0.45"/><rect x="1361.61" y="303.60" width="2.39" height="1.3" fill="#9a9a9a" opacity="0.55"/><rect x="1362.22" y="305.80" width="2.22" height="1.2" fill="#9a9a9a" opacity="0.45"/><rect x="1365.76" y="303.60" width="3.09" height="1.3" fill="#9a9a9a" opacity="0.55"/><rect x="1366.28" y="305.80" width="1.47" height="1.2" fill="#9a9a9a" opacity="0.45"/><rect x="1370.67" y="303.60" width="3.28" height="1.3" fill="#9a9a9a" opacity="0.55"/><rect x="1370.90" y="305.80" width="1.59" height="1.2" fill="#9a9a9a" opacity="0.45"/><rect x="1375.86" y="303.60" width="3.97" height="1.3" fill="#9a9a9a" opacity="0.55"/><rect x="1377.50" y="305.80" width="2.58" height="1.2" fill="#9a9a9a" opacity="0.45"/><rect x="1381.28" y="303.60" width="3.08" height="1.3" fill="#9a9a9a" opacity="0.55"/><rect x="1383.23" y="305.80" width="2.46" height="1.2" fill="#9a9a9a" opacity="0.45"/><rect x="1387.06" y="303.60" width="1.11" height="1.3" fill="#9a9a9a" opacity="0.55"/><rect x="1388.03" y="305.80" width="2.73" height="1.2" fill="#9a9a9a" opacity="0.45"/><rect x="1389.27" y="303.60" width="3.04" height="1.3" fill="#9a9a9a" opacity="0.55"/><rect x="1391.26" y="305.80" width="2.99" height="1.2" fill="#9a9a9a" opacity="0.45"/><rect x="1394.68" y="303.60" width="2.17" height="1.3" fill="#9a9a9a" opacity="0.55"/><rect x="1396.63" y="305.80" width="2.84" height="1.2" fill="#9a9a9a" opacity="0.45"/></g>
<path d="M858.8,429.7 C845,424 838,415 839.5,407 C841,400 846,397 852,396" fill="none" stroke="#8a8a8a" stroke-width="1.0"/><polygon points="848.2,393.7 857.7,394.3 851.9,400.1" fill="#3a3a3a"/>
<path d="M1003,310.7 C992,306 984,298 984.5,290 C985,284 990,280 995,279" fill="none" stroke="#8a8a8a" stroke-width="1.0"/><polygon points="993,275.8 1001.9,276.4 996.6,282.7" fill="#3a3a3a"/>
<path d="M1090.8,305.6 C1088,313 1084,320 1085,327 C1087,333 1091,335.5 1096,335.5 L1106,335.2" fill="none" stroke="#8a8a8a" stroke-width="1.0"/><polygon points="1104.5,332 1113.3,333.7 1106.7,339" fill="#3a3a3a"/>
<path d="M1379.1,176.9 C1386,177 1392,184 1392.7,190 C1393,195 1391,198 1389,200" fill="none" stroke="#8a8a8a" stroke-width="1.0"/><polygon points="1386.6,198 1391.4,203.7 1381.7,204.6" fill="#3a3a3a"/>
<polyline points="865.10,240.73 1009.84,168.78 1082.21,86.06 1371.69,102.42" fill="none" stroke="#1a1a1a" stroke-width="1.5"/>
<rect x="858.10" y="233.73" width="14.00" height="14.00" fill="#121010"/>
<rect x="1002.84" y="161.78" width="14.00" height="14.00" fill="#121010"/>
<rect x="1075.21" y="79.06" width="14.00" height="14.00" fill="#121010"/>
<rect x="1364.69" y="95.42" width="14.00" height="14.00" fill="#121010"/>
<polyline points="865.10,446.52 1009.84,329.03 1082.21,290.18 1371.69,159.68" fill="none" stroke="#e41a22" stroke-width="1.5"/>
<circle cx="865.10" cy="446.52" r="7.80" fill="#e2121a"/>
<circle cx="1009.84" cy="329.03" r="7.80" fill="#e2121a"/>
<circle cx="1082.21" cy="290.18" r="7.80" fill="#e2121a"/>
<circle cx="1371.69" cy="159.68" r="7.80" fill="#e2121a"/>
<rect x="916.6" y="412.5" width="486" height="65" fill="#fff" stroke="#444" stroke-width="1.2"/>
<line x1="920.7" y1="429.50" x2="977.4" y2="429.50" stroke="#1a1a1a" stroke-width="1.5"/>
<rect x="942.00" y="422.50" width="14.00" height="14.00" fill="#121010"/>
<text x="984.5" y="438.70" font-family="Liberation Serif" font-size="29.2" fill="#222">Calculated <tspan font-style="italic">R</tspan> (cylindrical holes)</text>
<line x1="920.7" y1="463.00" x2="977.4" y2="463.00" stroke="#e41a22" stroke-width="1.5"/>
<circle cx="949.00" cy="463.00" r="7.80" fill="#e2121a"/>
<text x="984.5" y="472.20" font-family="Liberation Serif" font-size="29.2" fill="#222">Measured <tspan font-style="italic">R</tspan> (Funnel-shaped holes)</text>
</svg></body></html>
